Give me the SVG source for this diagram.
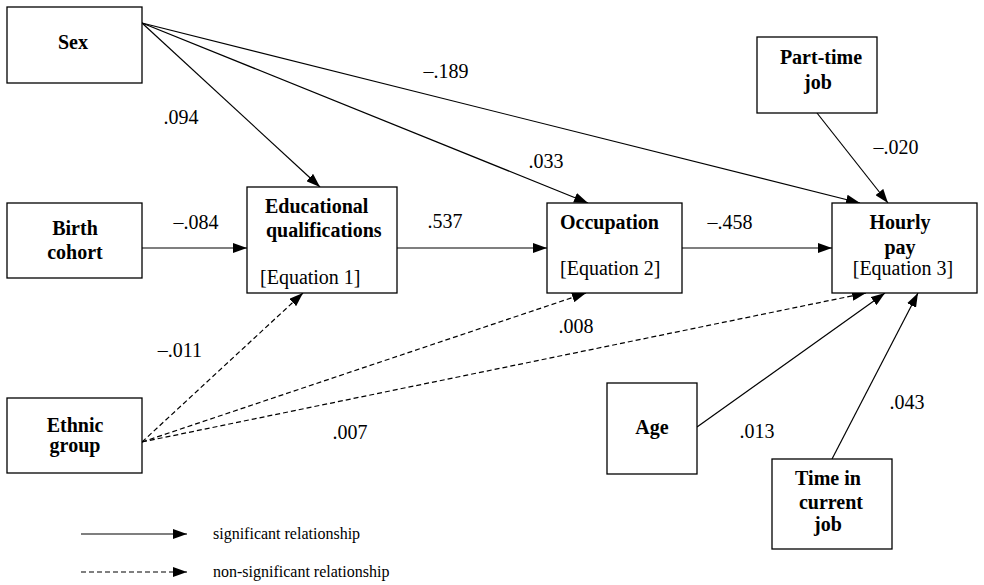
<svg xmlns="http://www.w3.org/2000/svg" width="984" height="585" viewBox="0 0 984 585">
<defs>
<marker id="ah" viewBox="0 0 14 10" refX="14" refY="5" markerWidth="14" markerHeight="10" markerUnits="userSpaceOnUse" orient="auto">
<path d="M0,0 L14,5 L0,10 Z" fill="#000"/>
</marker>
</defs>
<style>
text{font-family:"Liberation Serif","Times New Roman",Times,"DejaVu Serif",serif}
.box{fill:#fff;stroke:#000;stroke-width:1.3}
.nl{font-weight:bold;font-size:20px;fill:#000}
.eq{font-size:20px;fill:#000}
.num{font-size:20px;fill:#000;text-anchor:middle}
.lg{font-size:16px;fill:#000}
.c{text-anchor:middle}
.s{stroke:#000;stroke-width:1.2;fill:none;marker-end:url(#ah)}
.d{stroke:#000;stroke-width:1.2;fill:none;stroke-dasharray:5,3;marker-end:url(#ah)}
</style>
<rect width="984" height="585" fill="#fff"/>
<g id="connectors">
<line class="s" x1="142" y1="23" x2="320" y2="187"/>
<line class="s" x1="142" y1="23" x2="588" y2="203"/>
<line class="s" x1="142" y1="23" x2="860" y2="203"/>
<line class="s" x1="817" y1="113" x2="888" y2="203"/>
<line class="s" x1="142" y1="248" x2="247" y2="248"/>
<line class="s" x1="397" y1="248" x2="547" y2="248"/>
<line class="s" x1="682" y1="248" x2="832" y2="248"/>
<line class="d" x1="142" y1="442" x2="303" y2="293"/>
<line class="d" x1="142" y1="442" x2="586" y2="293"/>
<line class="d" x1="142" y1="442" x2="866" y2="293"/>
<line class="s" x1="697" y1="427" x2="885" y2="293"/>
<line class="s" x1="832" y1="459" x2="918" y2="293"/>
</g>
<g id="labels">
<text class="num" x="181" y="124">.094</text>
<text class="num" x="446" y="78">–.189</text>
<text class="num" x="546" y="168">.033</text>
<text class="num" x="896" y="154">–.020</text>
<text class="num" x="196" y="229">–.084</text>
<text class="num" x="445" y="228">.537</text>
<text class="num" x="730" y="229">–.458</text>
<text class="num" x="180" y="357">–.011</text>
<text class="num" x="576" y="333">.008</text>
<text class="num" x="350" y="439">.007</text>
<text class="num" x="757" y="438">.013</text>
<text class="num" x="907" y="409">.043</text>
</g>
<g id="sex">
<rect class="box" x="7" y="7" width="135" height="76"/>
<text class="nl c" x="73" y="49">Sex</text>
</g>
<g id="birth-cohort">
<rect class="box" x="7" y="203" width="135" height="75"/>
<text class="nl c" x="75" y="235">Birth</text>
<text class="nl c" x="75" y="259">cohort</text>
</g>
<g id="ethnic-group">
<rect class="box" x="7" y="398" width="135" height="75"/>
<text class="nl c" x="75" y="432">Ethnic</text>
<text class="nl c" x="75" y="452">group</text>
</g>
<g id="educational-qualifications">
<rect class="box" x="247" y="187" width="150" height="106"/>
<text class="nl" x="265" y="213">Educational</text>
<text class="nl" x="266" y="237">qualifications</text>
<text class="eq" x="260" y="284">[Equation 1]</text>
</g>
<g id="occupation">
<rect class="box" x="547" y="203" width="135" height="90"/>
<text class="nl" x="560" y="229">Occupation</text>
<text class="eq" x="560" y="275">[Equation 2]</text>
</g>
<g id="hourly-pay">
<rect class="box" x="832" y="203" width="145" height="90"/>
<text class="nl c" x="900" y="229">Hourly</text>
<text class="nl c" x="900" y="254">pay</text>
<text class="eq c" x="903" y="275">[Equation 3]</text>
</g>
<g id="part-time-job">
<rect class="box" x="757" y="37" width="120" height="76"/>
<text class="nl c" x="821" y="64">Part-time</text>
<text class="nl c" x="818" y="89">job</text>
</g>
<g id="age">
<rect class="box" x="607" y="383" width="90" height="91"/>
<text class="nl c" x="652" y="434">Age</text>
</g>
<g id="time-in-current-job">
<rect class="box" x="772" y="459" width="120" height="90"/>
<text class="nl c" x="828" y="485">Time in</text>
<text class="nl c" x="831" y="509">current</text>
<text class="nl c" x="828" y="531">job</text>
</g>
<g id="legend">
<line class="s" x1="81" y1="534" x2="187" y2="534"/>
<line class="d" x1="81" y1="572" x2="187" y2="572"/>
<text class="lg" x="213" y="539">significant relationship</text>
<text class="lg" x="213" y="577">non-significant relationship</text>
</g>
</svg>
